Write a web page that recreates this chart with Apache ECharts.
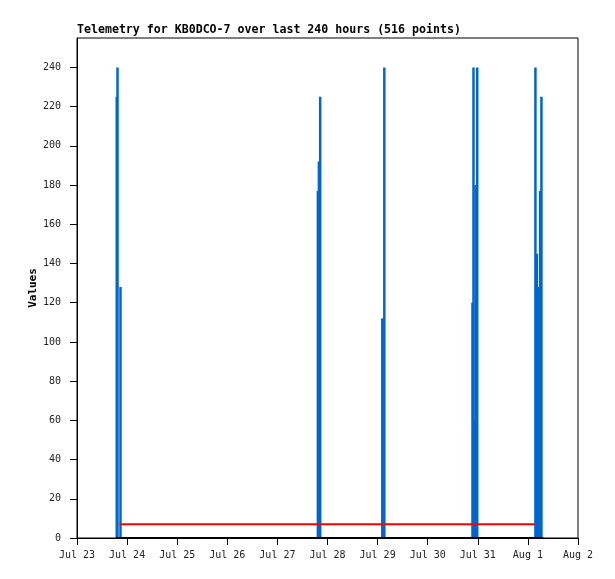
<!DOCTYPE html>
<html>
<head>
<meta charset="utf-8">
<script src="https://cdn.jsdelivr.net/npm/echarts@6/dist/echarts.min.js"></script>
<style>
html,body{margin:0;padding:0;background:#fff;}
#chart{width:615px;height:579px;}
</style>
</head>
<body>
<div id="chart"></div>
<script>
// ---- data ----
const titleText = 'Telemetry for KB0DCO-7 over last 240 hours (516 points)';
const yAxisName = 'Values';
const startTime = '2023-07-23T00:00:00Z';
const xTickLabels = ['Jul 23','Jul 24','Jul 25','Jul 26','Jul 27','Jul 28','Jul 29','Jul 30','Jul 31','Aug 1','Aug 2'];

const barTimes = [
  '2023-07-23T19:03:00Z','2023-07-23T19:24:00Z','2023-07-23T20:50:00Z',
  '2023-07-27T19:24:00Z','2023-07-27T19:53:00Z','2023-07-27T20:30:00Z',
  '2023-07-29T02:15:00Z','2023-07-29T03:13:00Z',
  '2023-07-30T21:27:00Z','2023-07-30T21:56:00Z','2023-07-30T22:31:00Z','2023-07-30T23:00:00Z','2023-07-30T23:43:00Z',
  '2023-08-01T03:36:00Z','2023-08-01T04:16:00Z','2023-08-01T04:59:00Z','2023-08-01T05:51:00Z','2023-08-01T06:29:00Z'
];
const barValues = [
  225, 240, 128,
  177, 192, 225,
  112, 240,
  120, 240, 60, 180, 240,
  240, 145, 128, 177, 225
];

const redTimes = ['2023-07-23T20:25:00Z', '2023-08-01T03:20:00Z'];
const redValues = [7, 7];

const baseTimes = ['2023-07-23T18:40:00Z', '2023-08-01T07:20:00Z'];
const baseValues = [0, 0];

// ---- helpers ----
const t0 = Date.parse(startTime);
const toHours = s => (Date.parse(s) - t0) / 3600000;
const pairs = (ts, vs) => ts.map((t, i) => [toHours(t), vs[i]]);

const mono = 'DejaVu Sans Mono';

const chart = echarts.init(document.getElementById('chart'), null, {renderer: 'canvas'});
chart.setOption({
  animation: false,
  backgroundColor: '#ffffff',
  title: {
    text: titleText,
    left: 77,
    top: 24,
    padding: 0,
    textStyle: {fontFamily: mono, fontWeight: 'bold', fontSize: 11.6, color: '#000'}
  },
  grid: {
    left: 77, right: 37, top: 38, bottom: 41,
    show: true, borderColor: '#000', borderWidth: 1, backgroundColor: '#fff'
  },
  xAxis: {
    type: 'value',
    min: 0, max: 240, interval: 24,
    axisLine: {show: true, lineStyle: {color: '#000', width: 1}},
    axisTick: {show: true, length: 7, lineStyle: {color: '#000'}},
    splitLine: {show: false},
    axisLabel: {
      margin: 12,
      fontFamily: mono, fontSize: 10, color: '#222',
      formatter: v => xTickLabels[Math.round(v / 24)] || ''
    }
  },
  yAxis: {
    type: 'value',
    min: 0, max: 255, interval: 20,
    name: yAxisName,
    nameLocation: 'middle',
    nameRotate: 90,
    nameGap: 38,
    nameMoveOverlap: false,
    nameTextStyle: {fontFamily: mono, fontWeight: 'bold', fontSize: 11, color: '#000'},
    axisLine: {show: true, lineStyle: {color: '#000', width: 1}},
    axisTick: {show: true, length: 7, lineStyle: {color: '#000'}},
    splitLine: {show: false},
    axisLabel: {
      margin: 16, showMaxLabel: false,
      fontFamily: mono, fontSize: 10, color: '#222',
      formatter: v => (v % 20 === 0 ? String(v) : '')
    }
  },
  series: [
    {
      type: 'bar',
      data: pairs(barTimes, barValues),
      barWidth: 2.5,
      itemStyle: {color: '#0066cc'},
      z: 2
    },
    {
      type: 'line',
      data: pairs(redTimes, redValues),
      symbol: 'none',
      lineStyle: {color: '#ff0000', width: 2},
      z: 3
    },
    {
      type: 'line',
      data: pairs(baseTimes, baseValues),
      symbol: 'none',
      lineStyle: {color: '#000', width: 2},
      z: 4
    }
  ]
});
</script>
</body>
</html>
